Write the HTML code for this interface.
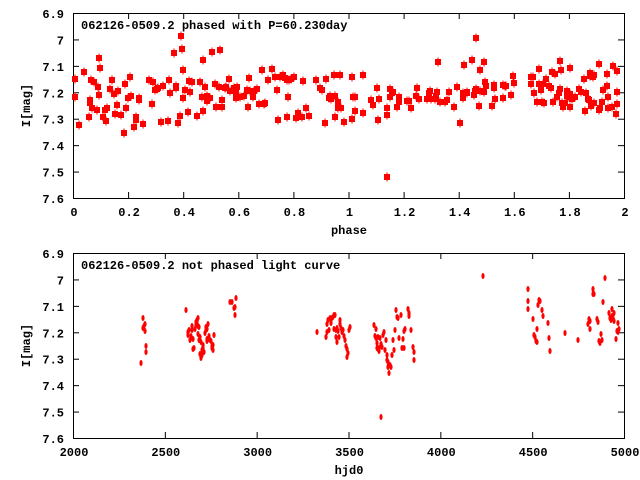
<!DOCTYPE html>
<html><head><meta charset="utf-8"><style>
html,body{margin:0;padding:0;background:#fff;}
svg{display:block;}
text{font-family:"Liberation Mono","DejaVu Sans Mono",monospace;font-weight:bold;font-size:12px;fill:#000;}
</style></head><body>
<svg id="s" width="640" height="480" xmlns="http://www.w3.org/2000/svg">
<rect width="640" height="480" fill="#fff"/>
<g id="axes" stroke="#000" stroke-width="1" fill="none"></g>
<g id="lab"></g>
<g id="pts" fill="#f00"></g>
</svg>
<script>
var NS="http://www.w3.org/2000/svg";
function el(p,t,a,txt){var e=document.createElementNS(NS,t);for(var k in a)e.setAttribute(k,a[k]);if(txt!=null)e.textContent=txt;document.getElementById(p).appendChild(e);return e;}
var L=73,R=624;
function frame(T,B,xt,xl,title,xlabel){
 el('axes','rect',{x:L+.5,y:T+.5,width:R-L,height:B-T});
 var yl=['6.9','7','7.1','7.2','7.3','7.4','7.5','7.6'];
 for(var i=0;i<8;i++){var y=T+(B-T)*i/7;
  el('axes','line',{x1:L,y1:y+.5,x2:L+6,y2:y+.5});el('axes','line',{x1:R-6,y1:y+.5,x2:R,y2:y+.5});
  el('lab','text',{x:64,y:y+5,'text-anchor':'end'},yl[i]);}
 for(var i=0;i<xt.length;i++){var x=L+(R-L)*i/(xt.length-1);
  el('axes','line',{x1:x+.5,y1:T,x2:x+.5,y2:T+6});el('axes','line',{x1:x+.5,y1:B-6,x2:x+.5,y2:B});
  el('lab','text',{x:x+1,y:B+18,'text-anchor':'middle'},xt[i]);}
 el('lab','text',{x:81,y:T+16},title);
 el('lab','text',{x:xl,y:B+36,'text-anchor':'middle'},xlabel);
 el('lab','text',{x:0,y:0,transform:'translate(30,'+((T+B)/2)+') rotate(-90)','text-anchor':'middle'},'I[mag]');
}
frame(13,198,['0','0.2','0.4','0.6','0.8','1','1.2','1.4','1.6','1.8','2'],349,'062126-0509.2 phased with P=60.230day','phase');
frame(253,438,['2000','2500','3000','3500','4000','4500','5000'],349,'062126-0509.2 not phased light curve','hjd0');
var topPts=[75,79,75,97,79,125,84,72,89,117,90,103,90,100,92,108,91,80,94,82,97,110,99,58,99,95,100,68,98,87,103,117,106,121,105,110,107,108,110,89,112,80,114,94,115,114,117,105,118,91,121,115,124,133,125,84,126,108,128,98,130,77,131,96,134,127,136,120,136,117,139,98,139,100,143,124,149,80,152,104,153,82,155,90,157,89,158,88,161,122,163,86,168,121,169,80,170,93,174,53,176,88,176,86,178,123,180,116,181,36,182,49,183,70,183,98,185,90,188,112,189,81,190,92,192,82,197,116,200,82,202,97,203,60,203,111,205,87,207,101,207,96,210,98,212,52,215,84,216,107,219,87,220,50,222,100,222,107,225,88,226,87,230,91,229,79,234,88,237,87,236,98,244,96,240,97,236,92,247,90,249,78,250,91,248,107,254,91,253,97,257,89,259,104,262,70,264,104,265,103,268,80,272,69,275,77,277,90,278,120,280,77,283,75,285,78,287,80,287,117,289,80,288,97,291,79,294,77,296,118,298,113,302,117,303,81,306,108,309,116,316,80,
320,88,322,90,325,123,326,79,329,98,330,96,331,99,334,75,335,117,335,96,338,102,338,108,340,75,341,108,344,122,352,77,352,119,353,97,355,97,355,111,363,113,363,75,371,100,373,105,377,88,378,120,379,99,387,115,387,108,390,89,390,97,392,93,393,92,397,107,399,102,399,97,407,101,409,101,411,108,416,96,417,88,419,99,427,99,429,93,430,91,431,99,435,99,436,96,437,92,438,62,440,102,445,102,447,100,449,92,454,107,457,87,460,123,463,98,463,93,464,65,467,93,467,92,472,60,474,95,475,91,476,89,476,38,479,106,480,70,480,91,484,92,484,62,485,82,486,86,492,106,494,85,495,99,494,88,503,85,503,98,505,86,506,86,511,95,513,76,514,83,531,84,531,77,533,77,534,93,539,69,539,84,542,102,541,90,544,103,543,84,537,102,546,79,549,86,551,88,552,72,553,102,555,74,557,97,559,93,560,61,560,89,561,70,562,103,563,107,565,103,567,91,567,96,569,97,570,94,570,68,570,107,572,99,575,97,579,89,581,92,584,79,585,111,586,93,588,99,589,100,590,73,590,76,591,106,593,77,594,103,594,75,599,110,600,108,599,64,602,102,603,90,607,74,607,86,608,108,608,97,612,107,613,66,616,114,617,71,617,92,617,104,387,177];
for(var i=0;i<topPts.length;i+=2){var x=topPts[i],y=topPts[i+1];
 el('pts','rect',{x:x-3,y:y-3,width:6,height:6});el('pts','rect',{x:x-.5,y:y-4.5,width:1,height:9});}
var bot=[141,363,143,328,143,318,144,326,145,324,145,331,146,346,146,352,186,310,188,332,188,335,189,330,190,340,191,336,192,330,192,326,193,339,193,349,194,348,195,329,196,322,196,325,197,322,197,320,198,318,198,326,199,327,198,334,200,337,199,340,201,342,200,354,201,358,202,355,202,350,203,348,203,346,204,352,203,345,205,333,206,330,206,327,207,329,207,339,207,341,208,324,209,336,210,340,211,341,212,346,212,348,213,350,213,345,214,335,230,302,232,302,234,308,235,315,235,307,236,298,317,332,
326,337,327,332,327,324,328,320,329,330,330,318,331,323,332,318,333,317,334,315,335,315,334,329,336,330,337,328,336,337,337,342,338,331,339,337,340,320,340,324,341,328,342,332,343,330,344,336,345,340,346,346,347,357,348,353,347,349,349,330,350,327,
374,325,375,336,376,329,376,338,378,337,377,343,377,348,378,349,379,351,379,348,380,338,381,344,382,347,383,335,384,332,386,340,385,350,387,355,387,360,388,362,388,367,390,365,389,373,391,367,392,355,393,340,394,350,395,330,396,310,397,317,398,318,399,338,401,315,402,348,403,339,404,348,404,331,405,329,408,309,409,313,409,316,411,330,413,347,414,352,414,360,381,417,483,276,
528,289,528,301,528,309,533,319,534,335,535,337,536,341,537,342,537,329,538,305,539,300,540,301,542,310,543,316,548,323,549,338,550,351,565,333,578,340,
588,324,589,319,590,321,590,329,593,289,594,294,593,294,597,319,598,322,599,341,600,343,601,334,602,340,603,302,605,278,609,313,610,318,611,320,612,316,612,309,613,318,614,321,614,313,616,339,617,331,618,332,618,323,619,329];
for(var i=0;i<bot.length;i+=2){el('pts','ellipse',{cx:bot[i],cy:bot[i+1],rx:1.6,ry:3});}
</script>
</body></html>
